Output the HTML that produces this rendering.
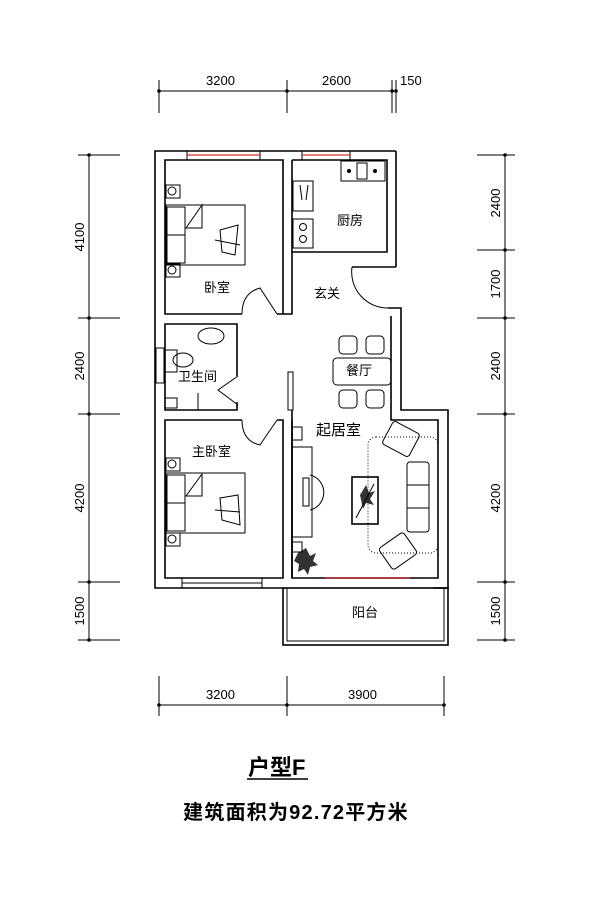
<!DOCTYPE html>
<html><head><meta charset="utf-8"><style>
html,body{margin:0;padding:0;background:#fff;width:600px;height:900px;overflow:hidden}
svg{display:block}
text{font-family:"Liberation Sans","Noto Sans CJK SC",sans-serif;fill:#000}
</style></head><body>
<svg width="600" height="900" viewBox="0 0 600 900" xmlns="http://www.w3.org/2000/svg">
<g stroke="#000" stroke-width="1" fill="none">
<line x1="159" y1="91" x2="395" y2="91"/>
<line x1="159" y1="80" x2="159" y2="113"/><line x1="287" y1="80" x2="287" y2="113"/>
<line x1="392" y1="80" x2="392" y2="113"/><line x1="396" y1="80" x2="396" y2="113"/>
<line x1="159" y1="705" x2="444" y2="705"/>
<line x1="159" y1="676" x2="159" y2="716"/><line x1="287" y1="676" x2="287" y2="716"/><line x1="444" y1="676" x2="444" y2="716"/>
<line x1="89" y1="155" x2="89" y2="640"/>
<line x1="78" y1="155" x2="120" y2="155"/><line x1="78" y1="318" x2="120" y2="318"/><line x1="78" y1="414" x2="120" y2="414"/><line x1="78" y1="582" x2="120" y2="582"/><line x1="78" y1="640" x2="120" y2="640"/>
<line x1="505" y1="155" x2="505" y2="640"/>
<line x1="477" y1="155" x2="515" y2="155"/><line x1="477" y1="250" x2="515" y2="250"/><line x1="477" y1="318" x2="515" y2="318"/><line x1="477" y1="414" x2="515" y2="414"/><line x1="477" y1="582" x2="515" y2="582"/><line x1="477" y1="640" x2="515" y2="640"/>
</g>
<g fill="#000">
<circle cx="159" cy="91" r="1.8"/><circle cx="287" cy="91" r="1.8"/><circle cx="392" cy="91" r="1.8"/><circle cx="396" cy="91" r="1.8"/>
<circle cx="159" cy="705" r="1.8"/><circle cx="287" cy="705" r="1.8"/><circle cx="444" cy="705" r="1.8"/>
<circle cx="89" cy="155" r="1.8"/><circle cx="89" cy="318" r="1.8"/><circle cx="89" cy="414" r="1.8"/><circle cx="89" cy="582" r="1.8"/><circle cx="89" cy="640" r="1.8"/>
<circle cx="505" cy="155" r="1.8"/><circle cx="505" cy="250" r="1.8"/><circle cx="505" cy="318" r="1.8"/><circle cx="505" cy="414" r="1.8"/><circle cx="505" cy="582" r="1.8"/><circle cx="505" cy="640" r="1.8"/>
</g>
<g font-size="13">
<text x="206" y="85">3200</text><text x="322" y="85">2600</text><text x="400" y="85">150</text>
<text x="206" y="699">3200</text><text x="348" y="699">3900</text>
<text transform="translate(84,237) rotate(-90)" text-anchor="middle">4100</text>
<text transform="translate(84,366) rotate(-90)" text-anchor="middle">2400</text>
<text transform="translate(84,498) rotate(-90)" text-anchor="middle">4200</text>
<text transform="translate(84,611) rotate(-90)" text-anchor="middle">1500</text>
<text transform="translate(500,203) rotate(-90)" text-anchor="middle">2400</text>
<text transform="translate(500,284) rotate(-90)" text-anchor="middle">1700</text>
<text transform="translate(500,366) rotate(-90)" text-anchor="middle">2400</text>
<text transform="translate(500,498) rotate(-90)" text-anchor="middle">4200</text>
<text transform="translate(500,611) rotate(-90)" text-anchor="middle">1500</text>
</g>
<g stroke="#000" stroke-width="1.6" fill="none">
<polyline points="396,151 155,151 155,588 283,588"/>
<polyline points="396,151 396,267"/>
<polyline points="242,314 165,314 165,160 283,160 283,314 277,314"/>
<polyline points="292,160 387,160 387,252 292,252 292,160"/>
<polyline points="292,252 292,314 283,314"/>
<polyline points="352,267 396,267"/>
<polyline points="388,308 401,308 401,410 448,410 448,588 433,588"/>
<polyline points="391,316 391,420 438,420 438,578 292,578 292,420"/>
<polyline points="237,376 237,324 165,324 165,410 237,410 237,402"/>
<polyline points="242,420 165,420 165,578 283,578 283,420 277,420"/>
<line x1="292" y1="410" x2="292" y2="578"/>
<rect x="283" y="588" width="165" height="57"/>
<rect x="287" y="588" width="157" height="53" stroke-width="1"/>
</g>
<g stroke="#000" stroke-width="1" fill="none">
<rect x="187" y="151" width="73" height="9"/><line x1="187" y1="155" x2="260" y2="155" stroke="#c00"/>
<rect x="302" y="151" width="48" height="9"/><line x1="302" y1="155" x2="350" y2="155" stroke="#c00"/>
<rect x="182" y="578" width="80" height="10"/><line x1="182" y1="583" x2="262" y2="583"/>
<line x1="325" y1="578" x2="410" y2="578" stroke="#c00"/>
<path d="M242 314 Q242 293 260 288 L277 314"/>
<path d="M352 267 A36 36 0 0 0 388 308"/>
<path d="M238 376 L218 390 L238 405"/>
<path d="M242 420 Q242 441 260 445 L277 420"/>
<rect x="166" y="205" width="79" height="60"/><rect x="167" y="207" width="18" height="56"/><line x1="185" y1="235" x2="167" y2="235"/>
<rect x="166" y="185" width="14" height="13"/><circle cx="172" cy="191" r="4"/>
<rect x="166" y="264" width="14" height="13"/><circle cx="172" cy="270" r="4"/>
<path d="M186 228 L202 205 L202 228 Z"/>
<path d="M220 230 L238 225 L235 255 L222 252 Z M215 240 L240 245"/>
<rect x="166" y="473" width="79" height="60"/><rect x="167" y="475" width="18" height="56"/><line x1="185" y1="503" x2="167" y2="503"/>
<rect x="166" y="458" width="14" height="13"/><circle cx="172" cy="464" r="4"/>
<rect x="166" y="533" width="14" height="13"/><circle cx="172" cy="539" r="4"/>
<path d="M186 496 L202 474 L202 496 Z"/>
<path d="M220 498 L238 495 L240 525 L222 520 Z M215 510 L240 512"/>
<rect x="341" y="161" width="44" height="20"/><circle cx="349" cy="171" r="1.5" fill="#000"/><circle cx="375" cy="171" r="1.5" fill="#000"/><rect x="357" y="163" width="10" height="16"/>
<rect x="293" y="181" width="20" height="30"/><path d="M300 185 L302 200 M308 185 L306 200"/>
<rect x="293" y="219" width="20" height="29"/><circle cx="303" cy="227" r="3.5"/><circle cx="303" cy="239" r="3.5"/>
<ellipse cx="211" cy="336" rx="13" ry="8"/>
<rect x="156" y="348" width="8" height="35"/><rect x="165" y="350" width="12" height="22"/><ellipse cx="183" cy="360" rx="10" ry="7"/>
<rect x="165" y="398" width="12" height="10"/><line x1="198" y1="393" x2="198" y2="410"/>
<rect x="333" y="358" width="58" height="27" rx="4"/>
<rect x="339" y="336" width="18" height="18" rx="4"/><rect x="366" y="336" width="18" height="18" rx="4"/>
<rect x="339" y="390" width="18" height="18" rx="4"/><rect x="366" y="390" width="18" height="18" rx="4"/>
<rect x="288" y="372" width="5" height="38"/>
<rect x="292" y="427" width="10" height="13"/>
<rect x="292" y="447" width="20" height="90"/>
<path d="M310 475 A18 18 0 0 1 310 510"/><rect x="303" y="478" width="6" height="28"/>
<rect x="292" y="542" width="10" height="10"/>
<rect x="368" y="437" width="70" height="116" rx="8" stroke-dasharray="1 2"/>
<rect x="352" y="477" width="26" height="47" stroke-width="1.6"/><line x1="356" y1="518" x2="374" y2="484"/>
<rect x="407" y="462" width="22" height="70" rx="3"/><line x1="407" y1="485" x2="429" y2="485"/><line x1="407" y1="508" x2="429" y2="508"/>
<rect x="386" y="426" width="30" height="26" rx="3" transform="rotate(28 401 439)"/>
<rect x="383" y="538" width="30" height="26" rx="3" transform="rotate(-35 398 551)"/>
</g>
<g fill="#000" opacity="0.8">
<path d="M298 553 l8 -5 l4 8 l6 -3 l-3 8 l5 4 l-8 2 l-2 8 l-4 -6 l-6 3 l1 -8 l-5 -3 z"/>
<path d="M360 495 l6 -10 l3 8 l6 -2 l-5 8 l4 6 l-8 -2 l-3 6 z"/>
</g>
<g font-size="13">
<text x="337" y="225">厨房</text>
<text x="204" y="292">卧室</text>
<text x="314" y="298">玄关</text>
<text x="346" y="375">餐厅</text>
<text x="178" y="381">卫生间</text>
<text x="192" y="456">主卧室</text>
<text x="316" y="435" font-size="15">起居室</text>
<text x="352" y="617">阳台</text>
</g>
<text x="248" y="775" font-size="22" font-weight="bold">户型F</text>
<line x1="247" y1="779" x2="308" y2="779" stroke="#000" stroke-width="1.5"/>
<text x="296" y="819" font-size="20" font-weight="bold" text-anchor="middle" letter-spacing="1.2">建筑面积为92.72平方米</text>
</svg>
</body></html>
